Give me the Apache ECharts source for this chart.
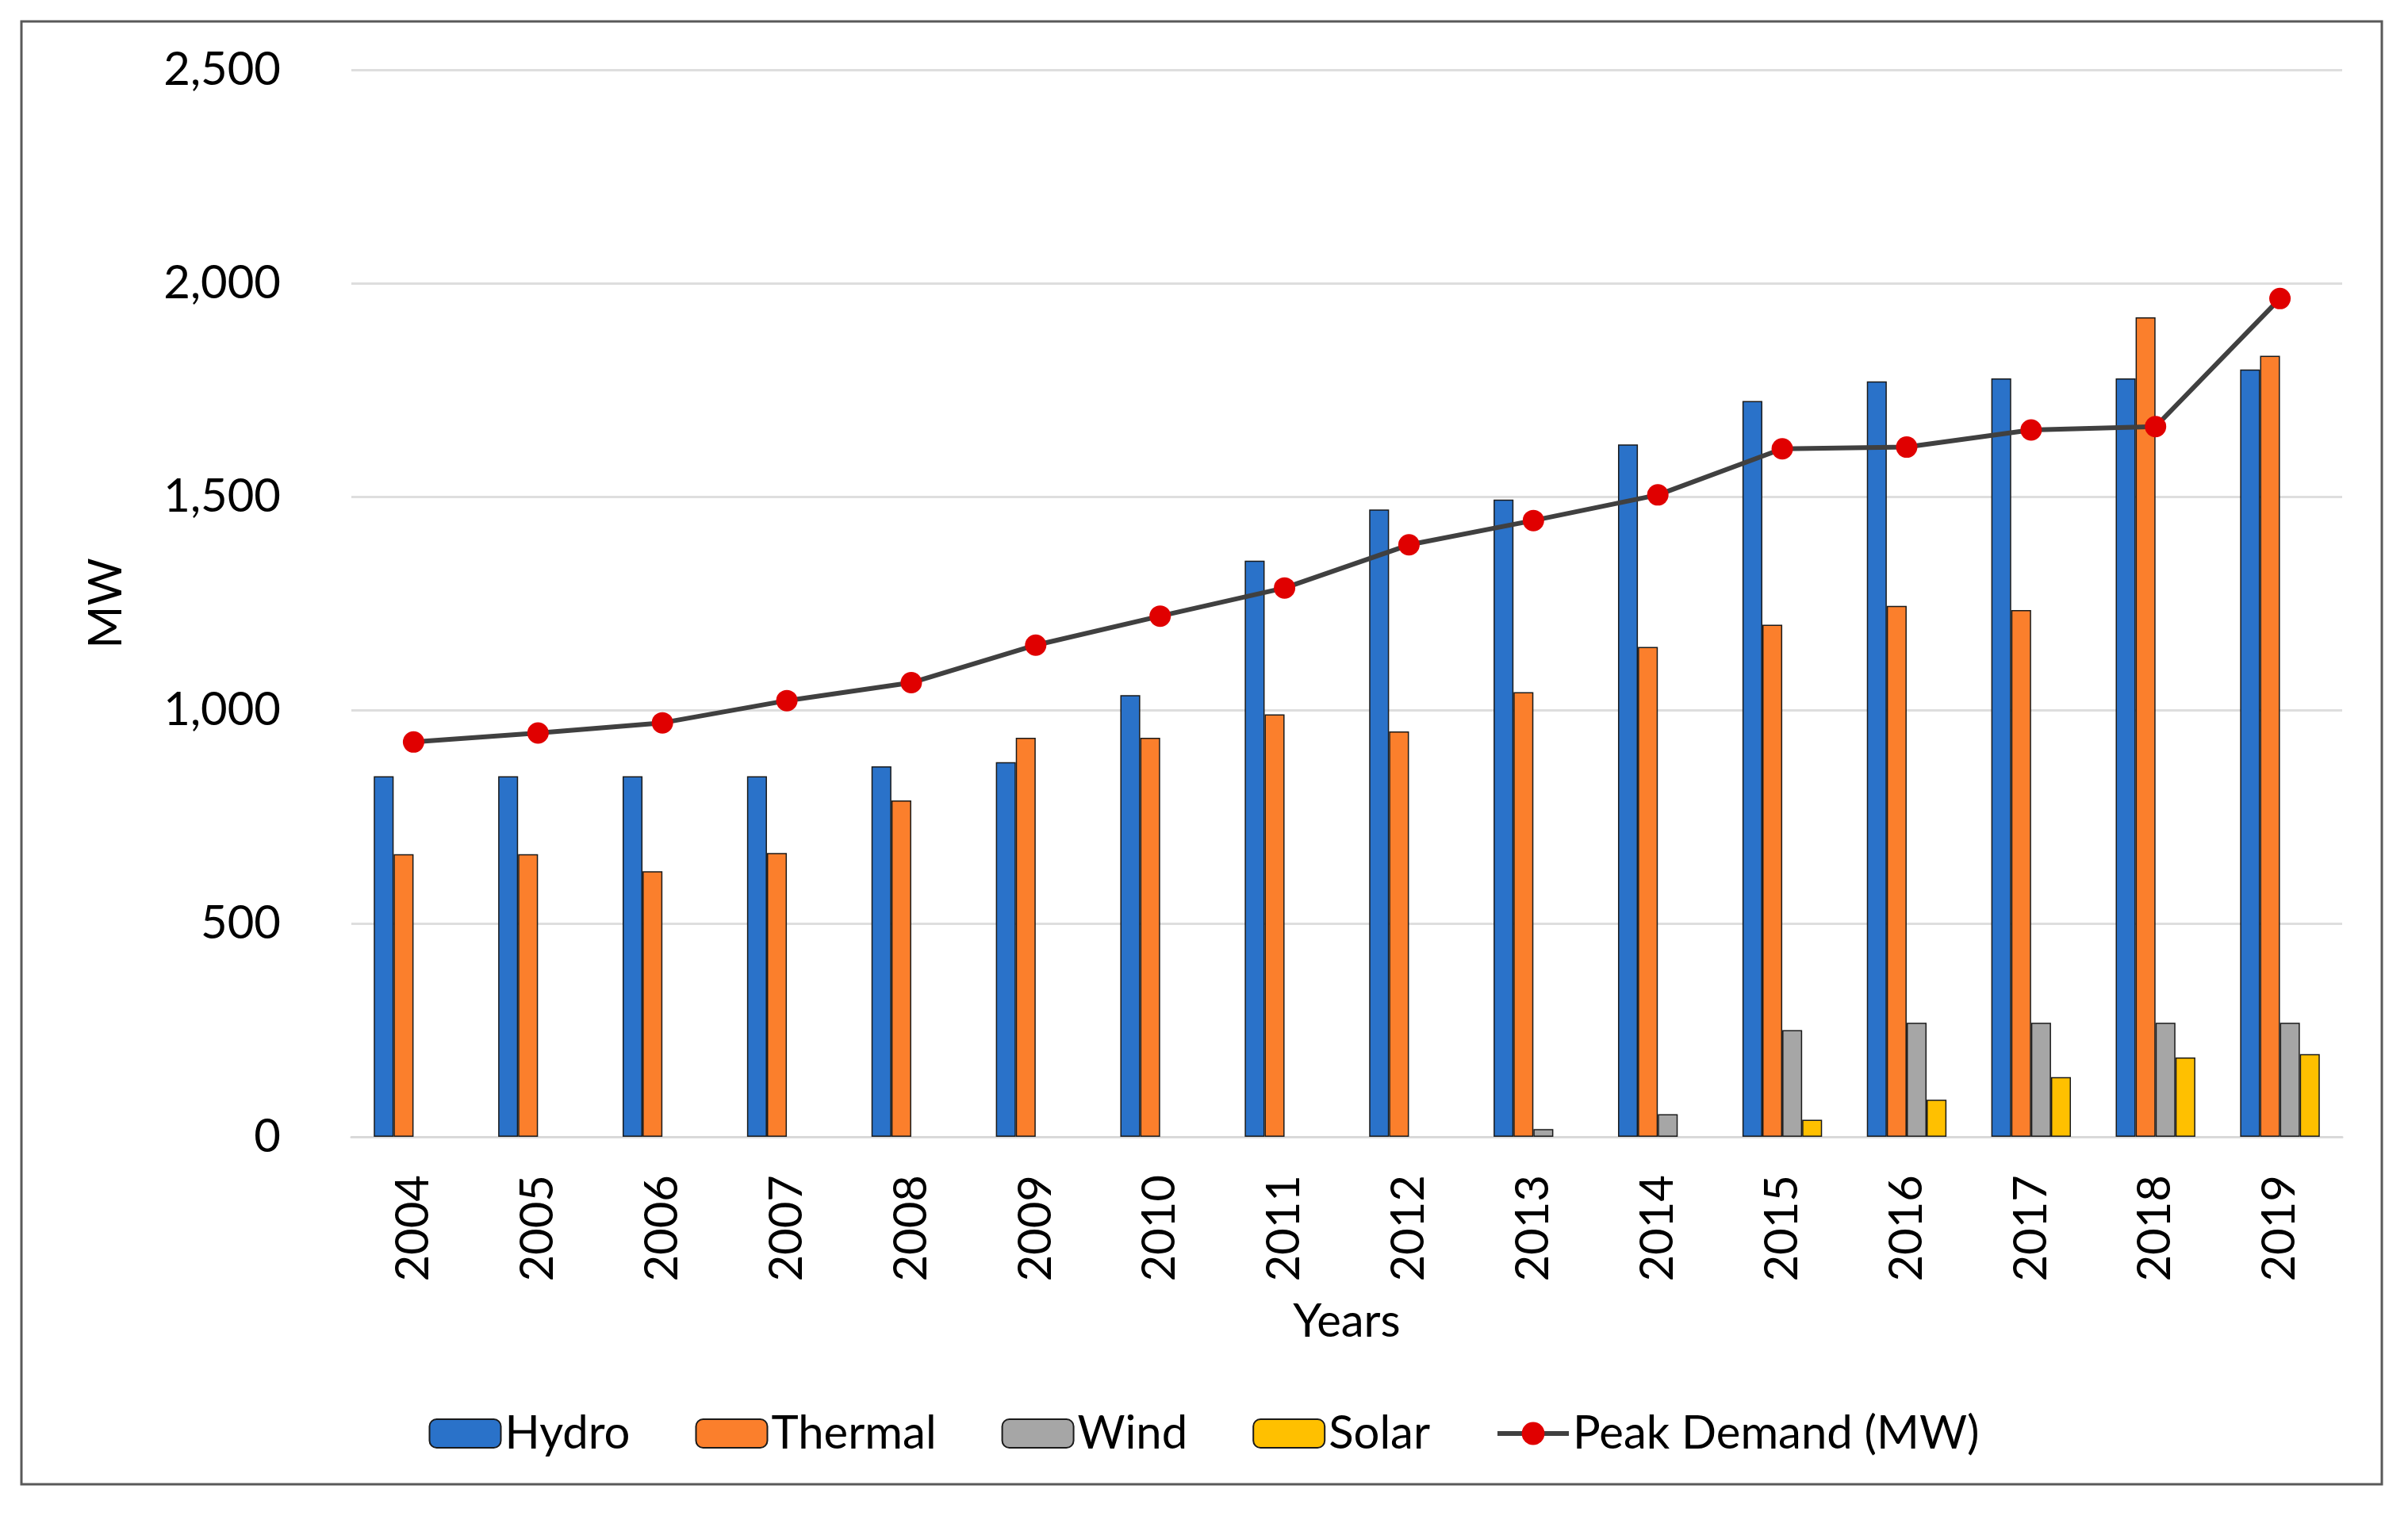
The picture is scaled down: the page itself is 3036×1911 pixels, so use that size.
<!DOCTYPE html>
<html>
<head>
<meta charset="utf-8">
<script src="https://cdn.jsdelivr.net/npm/echarts@6/dist/echarts.min.js"></script>
<style>
html,body{margin:0;padding:0;background:#fff;}
#c{width:3036px;height:1911px;}
</style>
</head>
<body>
<div id="c"></div>
<script>
const years = ['2004','2005','2006','2007','2008','2009','2010','2011','2012','2013','2014','2015','2016','2017','2018','2019'];
const hydro = [845, 845, 845, 845, 868, 878, 1035, 1350, 1470, 1493, 1622, 1724, 1770, 1777, 1777, 1798];
const thermal = [662, 662, 622, 665, 788, 935, 935, 990, 950, 1042, 1148, 1200, 1244, 1234, 1920, 1830];
const wind = [null, null, null, null, null, null, null, null, null, 18, 53, 250, 267, 267, 267, 267];
const solar = [null, null, null, null, null, null, null, null, null, null, null, 40, 87, 140, 186, 194];
const peak = [925, 946, 970, 1022, 1064, 1152, 1220, 1286, 1387, 1444, 1504, 1612, 1616, 1656, 1664, 1964];
const yTicks = [0, 500, 1000, 1500, 2000, 2500];

const FONT = 'Lato';
const chart = echarts.init(document.getElementById('c'), null, {renderer: 'canvas'});
const barBorder = {borderColor: '#1a1a1a', borderWidth: 1.5};
const option = {
  backgroundColor: '#ffffff',
  animation: false,
  textStyle: {fontFamily: FONT, color: '#000'},
  graphic: [{
    type: 'rect',
    shape: {x: 27, y: 27, width: 2976, height: 1844},
    style: {fill: 'none', stroke: '#595959', lineWidth: 3},
    silent: true, z: -1
  }],
  grid: {left: 443, right: 83, top: 88, bottom: 478, containLabel: false},
  legend: {
    top: 1773,
    left: 'center',
    itemWidth: 90,
    itemHeight: 36,
    itemGap: 82,
    textStyle: {fontFamily: FONT, fontSize: 58, color: '#000'},
    data: ['Hydro', 'Thermal', 'Wind', 'Solar',
      {name: 'Peak Demand (MW)', lineStyle: {width: 6, color: '#404040'}}]
  },
  xAxis: {
    type: 'category',
    data: years,
    name: 'Years',
    nameLocation: 'middle',
    nameGap: 204,
    nameTextStyle: {fontFamily: FONT, fontSize: 58, color: '#000'},
    axisLine: {show: true, lineStyle: {color: '#d9d9d9', width: 3}},
    axisTick: {show: false},
    axisLabel: {rotate: 90, margin: 48, fontFamily: FONT, fontSize: 58, color: '#000'}
  },
  yAxis: {
    type: 'value',
    min: yTicks[0],
    max: yTicks[yTicks.length - 1],
    interval: 500,
    name: 'MW',
    nameLocation: 'middle',
    nameGap: 280,
    nameTextStyle: {fontFamily: FONT, fontSize: 58, color: '#000'},
    axisLine: {show: false},
    axisTick: {show: false},
    splitLine: {lineStyle: {color: '#dedede', width: 3}},
    axisLabel: {
      margin: 89, fontFamily: FONT, fontSize: 58, color: '#000',
      formatter: v => v.toLocaleString('en-US')
    }
  },
  series: [
    {name: 'Hydro', type: 'bar', data: hydro, barGap: '0%', barCategoryGap: '36%',
     itemStyle: Object.assign({color: '#2A72C9'}, barBorder)},
    {name: 'Thermal', type: 'bar', data: thermal,
     itemStyle: Object.assign({color: '#FB7F2C'}, barBorder)},
    {name: 'Wind', type: 'bar', data: wind,
     itemStyle: Object.assign({color: '#A6A6A6'}, barBorder)},
    {name: 'Solar', type: 'bar', data: solar,
     itemStyle: Object.assign({color: '#FFC000'}, barBorder)},
    {name: 'Peak Demand (MW)', type: 'line', data: peak,
     symbol: 'circle', symbolSize: 27,
     lineStyle: {color: '#404040', width: 6},
     itemStyle: {color: '#E00000', borderWidth: 0},
     z: 5}
  ]
};
chart.setOption(option);
</script>
</body>
</html>
